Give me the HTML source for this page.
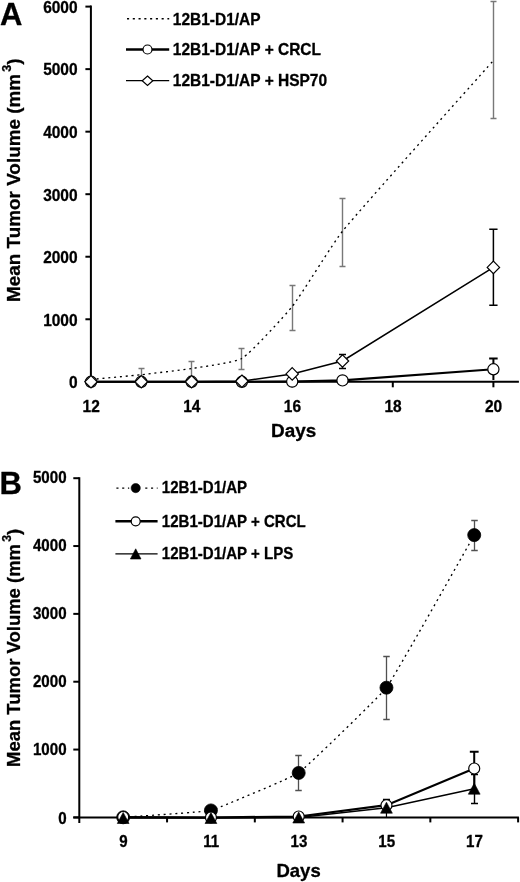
<!DOCTYPE html>
<html><head><meta charset="utf-8"><title>Figure</title>
<style>
html,body{margin:0;padding:0;background:#fff;}
svg{display:block;filter:blur(0.45px);}
text{font-family:"Liberation Sans",sans-serif;font-weight:bold;fill:#000;stroke:#000;stroke-width:0.3px;stroke-linejoin:round;}
.t15{font-size:16.2px;}
.t19{font-size:18.9px;}
.tL{font-size:31px;}
</style></head>
<body>
<svg width="520" height="882" viewBox="0 0 520 882">
<rect width="520" height="882" fill="#fff"/>
<path d="M90.90 5.60 V381.80 H518.9" stroke="#000" stroke-width="2" fill="none" stroke-linejoin="miter"/>
<path d="M85.40 381.80 H90.90" stroke="#000" stroke-width="2"/>
<text transform="translate(77.60 388.10) scale(0.957 1)" text-anchor="end" class="t15">0</text>
<path d="M85.40 319.27 H90.90" stroke="#000" stroke-width="2"/>
<text transform="translate(77.60 325.57) scale(0.957 1)" text-anchor="end" class="t15">1000</text>
<path d="M85.40 256.73 H90.90" stroke="#000" stroke-width="2"/>
<text transform="translate(77.60 263.03) scale(0.957 1)" text-anchor="end" class="t15">2000</text>
<path d="M85.40 194.20 H90.90" stroke="#000" stroke-width="2"/>
<text transform="translate(77.60 200.50) scale(0.957 1)" text-anchor="end" class="t15">3000</text>
<path d="M85.40 131.67 H90.90" stroke="#000" stroke-width="2"/>
<text transform="translate(77.60 137.97) scale(0.957 1)" text-anchor="end" class="t15">4000</text>
<path d="M85.40 69.13 H90.90" stroke="#000" stroke-width="2"/>
<text transform="translate(77.60 75.43) scale(0.957 1)" text-anchor="end" class="t15">5000</text>
<path d="M85.40 6.60 H90.90" stroke="#000" stroke-width="2"/>
<text transform="translate(77.60 12.90) scale(0.957 1)" text-anchor="end" class="t15">6000</text>
<path d="M91.00 381.80 V387.30" stroke="#000" stroke-width="2"/>
<text transform="translate(91.20 411.80) scale(0.957 1)" text-anchor="middle" class="t15">12</text>
<path d="M191.60 381.80 V387.30" stroke="#000" stroke-width="2"/>
<text transform="translate(191.80 411.80) scale(0.957 1)" text-anchor="middle" class="t15">14</text>
<path d="M292.20 381.80 V387.30" stroke="#000" stroke-width="2"/>
<text transform="translate(292.40 411.80) scale(0.957 1)" text-anchor="middle" class="t15">16</text>
<path d="M392.80 381.80 V387.30" stroke="#000" stroke-width="2"/>
<text transform="translate(393.00 411.80) scale(0.957 1)" text-anchor="middle" class="t15">18</text>
<path d="M493.40 381.80 V387.30" stroke="#000" stroke-width="2"/>
<text transform="translate(493.60 411.80) scale(0.957 1)" text-anchor="middle" class="t15">20</text>
<text x="293.6" y="437.3" text-anchor="middle" class="t19">Days</text>
<g transform="translate(20.20 302.00) rotate(-90) scale(1.0000)"><text x="0" y="0" class="t19">Mean Tumor Volume (mm</text><text x="230.3" y="-9.2" style="font-size:12.5px">3</text><text x="237.2" y="0" class="t19">)</text></g>
<text x="0" y="24.9" class="tL">A</text>
<path d="M141.50 368.50 V381.50 M138.50 368.50 H144.50 M138.50 381.50 H144.50" stroke="#787878" stroke-width="1.4" fill="none"/>
<path d="M191.50 361.50 V376.50 M188.50 361.50 H194.50 M188.50 376.50 H194.50" stroke="#787878" stroke-width="1.4" fill="none"/>
<path d="M241.50 348.50 V369.50 M238.50 348.50 H244.50 M238.50 369.50 H244.50" stroke="#787878" stroke-width="1.4" fill="none"/>
<path d="M292.50 285.50 V330.50 M289.50 285.50 H295.50 M289.50 330.50 H295.50" stroke="#787878" stroke-width="1.4" fill="none"/>
<path d="M342.50 198.50 V266.50 M339.50 198.50 H345.50 M339.50 266.50 H345.50" stroke="#787878" stroke-width="1.4" fill="none"/>
<path d="M493.50 1.50 V118.50 M490.50 1.50 H496.50 M490.50 118.50 H496.50" stroke="#787878" stroke-width="1.4" fill="none"/>
<path d="M91.00 379.50 C98.55 378.78 133.77 375.52 141.30 374.70 C148.86 373.87 184.10 369.71 191.60 368.50 C199.19 367.28 235.64 362.36 241.90 358.50 C250.73 353.06 285.50 314.98 292.20 306.50 C300.59 295.89 333.92 241.69 342.50 231.20 C364.10 204.79 470.76 86.11 493.40 60.50" stroke="#000" stroke-width="1.35" stroke-dasharray="2 3.8" fill="none"/>
<path d="M493.40 358.50 V380.00 M489.15 358.50 H497.65" stroke="#000" stroke-width="2" fill="none"/>
<path d="M91.00 381.80 L141.30 381.80 L191.60 381.80 L241.90 381.80 L292.20 381.60 L342.50 380.40 L493.40 369.30" stroke="#000" stroke-width="2.1" fill="none"/>
<path d="M342.50 354.50 V368.50 M339.00 354.50 H346.00 M339.00 368.50 H346.00" stroke="#000" stroke-width="1.4" fill="none"/>
<path d="M493.40 229.30 V305.20 M489.25 229.30 H497.55 M489.25 305.20 H497.55" stroke="#000" stroke-width="1.5" fill="none"/>
<path d="M91.00 381.80 L141.30 381.80 L191.60 381.80 L241.90 381.20 L292.20 373.90 L342.50 361.00 L493.40 267.40" stroke="#000" stroke-width="1.5" fill="none"/>
<circle cx="91.00" cy="381.80" r="5.60" fill="#fff" stroke="#000" stroke-width="1.2"/>
<circle cx="141.30" cy="381.80" r="5.60" fill="#fff" stroke="#000" stroke-width="1.2"/>
<circle cx="191.60" cy="381.80" r="5.60" fill="#fff" stroke="#000" stroke-width="1.2"/>
<circle cx="241.90" cy="381.80" r="5.60" fill="#fff" stroke="#000" stroke-width="1.2"/>
<circle cx="292.20" cy="381.60" r="5.60" fill="#fff" stroke="#000" stroke-width="1.2"/>
<circle cx="342.50" cy="380.40" r="5.60" fill="#fff" stroke="#000" stroke-width="1.2"/>
<circle cx="493.40" cy="369.30" r="5.60" fill="#fff" stroke="#000" stroke-width="1.2"/>
<path d="M91.00 375.60 L97.20 381.80 L91.00 388.00 L84.80 381.80 Z" fill="#fff" stroke="#000" stroke-width="1.2"/>
<path d="M141.30 375.60 L147.50 381.80 L141.30 388.00 L135.10 381.80 Z" fill="#fff" stroke="#000" stroke-width="1.2"/>
<path d="M191.60 375.60 L197.80 381.80 L191.60 388.00 L185.40 381.80 Z" fill="#fff" stroke="#000" stroke-width="1.2"/>
<path d="M241.90 375.00 L248.10 381.20 L241.90 387.40 L235.70 381.20 Z" fill="#fff" stroke="#000" stroke-width="1.2"/>
<path d="M292.20 367.70 L298.40 373.90 L292.20 380.10 L286.00 373.90 Z" fill="#fff" stroke="#000" stroke-width="1.2"/>
<path d="M342.50 354.80 L348.70 361.00 L342.50 367.20 L336.30 361.00 Z" fill="#fff" stroke="#000" stroke-width="1.2"/>
<path d="M493.40 261.20 L499.60 267.40 L493.40 273.60 L487.20 267.40 Z" fill="#fff" stroke="#000" stroke-width="1.2"/>
<path d="M126.00 18.8 H169.20" stroke="#000" stroke-width="1.4" stroke-dasharray="2.1 3.67" stroke-dashoffset="-1"/>
<text transform="translate(172.80 24.50) scale(0.957 1)" text-anchor="start" class="t15">12B1-D1/AP</text>
<path d="M126.00 49.5 H169.20" stroke="#000" stroke-width="2.6"/>
<circle cx="147.50" cy="49.50" r="4.50" fill="#fff" stroke="#000" stroke-width="1.2"/>
<text transform="translate(172.80 55.20) scale(0.957 1)" text-anchor="start" class="t15">12B1-D1/AP + CRCL</text>
<path d="M126.00 80.7 H169.20" stroke="#000" stroke-width="1.3"/>
<path d="M147.50 76.00 L152.80 80.70 L147.50 85.40 L142.20 80.70 Z" fill="#fff" stroke="#000" stroke-width="1.2"/>
<text transform="translate(172.80 86.40) scale(0.957 1)" text-anchor="start" class="t15">12B1-D1/AP + HSP70</text>
<path d="M79.30 477.20 V822.90" stroke="#000" stroke-width="2" fill="none"/>
<path d="M73.30 817.40 H518.9" stroke="#000" stroke-width="2" fill="none"/>
<path d="M73.30 817.40 H79.30" stroke="#000" stroke-width="2"/>
<text transform="translate(66.60 823.50) scale(0.970 1)" text-anchor="end" class="t15" style="font-size:15.6px">0</text>
<path d="M73.30 749.56 H79.30" stroke="#000" stroke-width="2"/>
<text transform="translate(66.60 755.48) scale(0.970 1)" text-anchor="end" class="t15" style="font-size:15.6px">1000</text>
<path d="M73.30 681.72 H79.30" stroke="#000" stroke-width="2"/>
<text transform="translate(66.60 687.46) scale(0.970 1)" text-anchor="end" class="t15" style="font-size:15.6px">2000</text>
<path d="M73.30 613.88 H79.30" stroke="#000" stroke-width="2"/>
<text transform="translate(66.60 619.44) scale(0.970 1)" text-anchor="end" class="t15" style="font-size:15.6px">3000</text>
<path d="M73.30 546.04 H79.30" stroke="#000" stroke-width="2"/>
<text transform="translate(66.60 551.42) scale(0.970 1)" text-anchor="end" class="t15" style="font-size:15.6px">4000</text>
<path d="M73.30 478.20 H79.30" stroke="#000" stroke-width="2"/>
<text transform="translate(66.60 483.40) scale(0.970 1)" text-anchor="end" class="t15" style="font-size:15.6px">5000</text>
<path d="M167.06 817.40 V822.40" stroke="#000" stroke-width="2"/>
<path d="M254.82 817.40 V822.40" stroke="#000" stroke-width="2"/>
<path d="M342.58 817.40 V822.40" stroke="#000" stroke-width="2"/>
<path d="M430.34 817.40 V822.40" stroke="#000" stroke-width="2"/>
<path d="M518.10 817.40 V822.40" stroke="#000" stroke-width="2"/>
<text transform="translate(123.48 846.60) scale(0.970 1)" text-anchor="middle" class="t15" style="font-size:15.6px">9</text>
<text transform="translate(211.24 846.60) scale(0.970 1)" text-anchor="middle" class="t15" style="font-size:15.6px">11</text>
<text transform="translate(299.00 846.60) scale(0.970 1)" text-anchor="middle" class="t15" style="font-size:15.6px">13</text>
<text transform="translate(386.76 846.60) scale(0.970 1)" text-anchor="middle" class="t15" style="font-size:15.6px">15</text>
<text transform="translate(474.52 846.60) scale(0.970 1)" text-anchor="middle" class="t15" style="font-size:15.6px">17</text>
<text x="298.6" y="877.2" text-anchor="middle" class="t19" style="font-size:18.5px">Days</text>
<g transform="translate(20.00 767.00) rotate(-90) scale(0.9780)"><text x="0" y="0" class="t19">Mean Tumor Volume (mm</text><text x="230.3" y="-9.2" style="font-size:12.5px">3</text><text x="237.2" y="0" class="t19">)</text></g>
<text x="-0.5" y="493.8" class="tL">B</text>
<path d="M298.50 755.50 V790.50 M295.25 755.50 H301.75 M295.25 790.50 H301.75" stroke="#505050" stroke-width="1.3" fill="none"/>
<path d="M386.50 656.50 V719.50 M383.25 656.50 H389.75 M383.25 719.50 H389.75" stroke="#505050" stroke-width="1.3" fill="none"/>
<path d="M474.50 520.50 V550.50 M471.25 520.50 H477.75 M471.25 550.50 H477.75" stroke="#505050" stroke-width="1.3" fill="none"/>
<path d="M123.18 817.30 C129.62 816.79 204.76 811.96 210.94 810.40 C217.64 808.71 293.06 776.84 298.70 772.90 C305.93 767.85 381.18 694.85 386.46 687.70 C394.05 677.41 467.78 546.29 474.22 535.10" stroke="#000" stroke-width="1.35" stroke-dasharray="2 3.8" fill="none"/>
<path d="M474.22 751.80 V786.00 M469.82 751.80 H478.62" stroke="#000" stroke-width="2" fill="none"/>
<path d="M386.46 799.60 V806.00 M382.96 799.60 H389.96" stroke="#000" stroke-width="1.8" fill="none"/>
<path d="M123.18 817.00 L210.94 817.50 L298.70 816.50 L386.46 805.20 L474.22 768.50" stroke="#000" stroke-width="2.2" fill="none"/>
<path d="M474.50 774.50 V803.50 M471.00 774.50 H478.00 M471.00 803.50 H478.00" stroke="#000" stroke-width="1.4" fill="none"/>
<path d="M386.46 808 V818" stroke="#000" stroke-width="1.2"/>
<path d="M123.18 818.00 L210.94 818.00 L298.70 817.50 L386.46 807.70 L474.22 788.70" stroke="#000" stroke-width="1.45" fill="none"/>
<circle cx="123.18" cy="817.30" r="6.50" fill="#000" stroke="#000" stroke-width="0.8"/>
<circle cx="210.94" cy="810.40" r="6.50" fill="#000" stroke="#000" stroke-width="0.8"/>
<circle cx="298.70" cy="772.90" r="6.50" fill="#000" stroke="#000" stroke-width="0.8"/>
<circle cx="386.46" cy="687.70" r="6.50" fill="#000" stroke="#000" stroke-width="0.8"/>
<circle cx="474.22" cy="535.10" r="6.50" fill="#000" stroke="#000" stroke-width="0.8"/>
<circle cx="123.18" cy="817.00" r="5.50" fill="#fff" stroke="#000" stroke-width="1.2"/>
<circle cx="210.94" cy="817.50" r="5.50" fill="#fff" stroke="#000" stroke-width="1.2"/>
<circle cx="298.70" cy="816.50" r="5.50" fill="#fff" stroke="#000" stroke-width="1.2"/>
<circle cx="386.46" cy="805.20" r="5.50" fill="#fff" stroke="#000" stroke-width="1.2"/>
<circle cx="474.22" cy="768.50" r="5.50" fill="#fff" stroke="#000" stroke-width="1.2"/>
<path d="M123.18 812.50 L129.08 823.50 L117.28 823.50 Z" fill="#000" stroke="#000" stroke-width="0.6"/>
<path d="M210.94 812.50 L216.84 823.50 L205.04 823.50 Z" fill="#000" stroke="#000" stroke-width="0.6"/>
<path d="M298.70 812.00 L304.60 823.00 L292.80 823.00 Z" fill="#000" stroke="#000" stroke-width="0.6"/>
<path d="M386.46 802.20 L392.36 813.20 L380.56 813.20 Z" fill="#000" stroke="#000" stroke-width="0.6"/>
<path d="M474.22 783.20 L480.12 794.20 L468.32 794.20 Z" fill="#000" stroke="#000" stroke-width="0.6"/>
<path d="M115.40 488.1 H157.60" stroke="#000" stroke-width="1.4" stroke-dasharray="2.1 3.67" stroke-dashoffset="-1"/>
<circle cx="135.70" cy="488.1" r="6.6" fill="#fff"/>
<circle cx="135.70" cy="488.10" r="4.60" fill="#000" stroke="#000" stroke-width="0.6"/>
<text transform="translate(161.80 493.30) scale(0.953 1)" text-anchor="start" class="t15" style="font-size:15.8px">12B1-D1/AP</text>
<path d="M115.40 521.3 H157.60" stroke="#000" stroke-width="2.6"/>
<circle cx="135.70" cy="521.30" r="4.50" fill="#fff" stroke="#000" stroke-width="1.2"/>
<text transform="translate(161.80 526.50) scale(0.953 1)" text-anchor="start" class="t15" style="font-size:15.8px">12B1-D1/AP + CRCL</text>
<path d="M115.40 553.9 H157.60" stroke="#000" stroke-width="1.3"/>
<path d="M135.70 548.80 L141.00 559.00 L130.40 559.00 Z" fill="#000" stroke="#000" stroke-width="0.6"/>
<text transform="translate(161.80 559.00) scale(0.953 1)" text-anchor="start" class="t15" style="font-size:15.8px">12B1-D1/AP + LPS</text>
</svg>
</body></html>
